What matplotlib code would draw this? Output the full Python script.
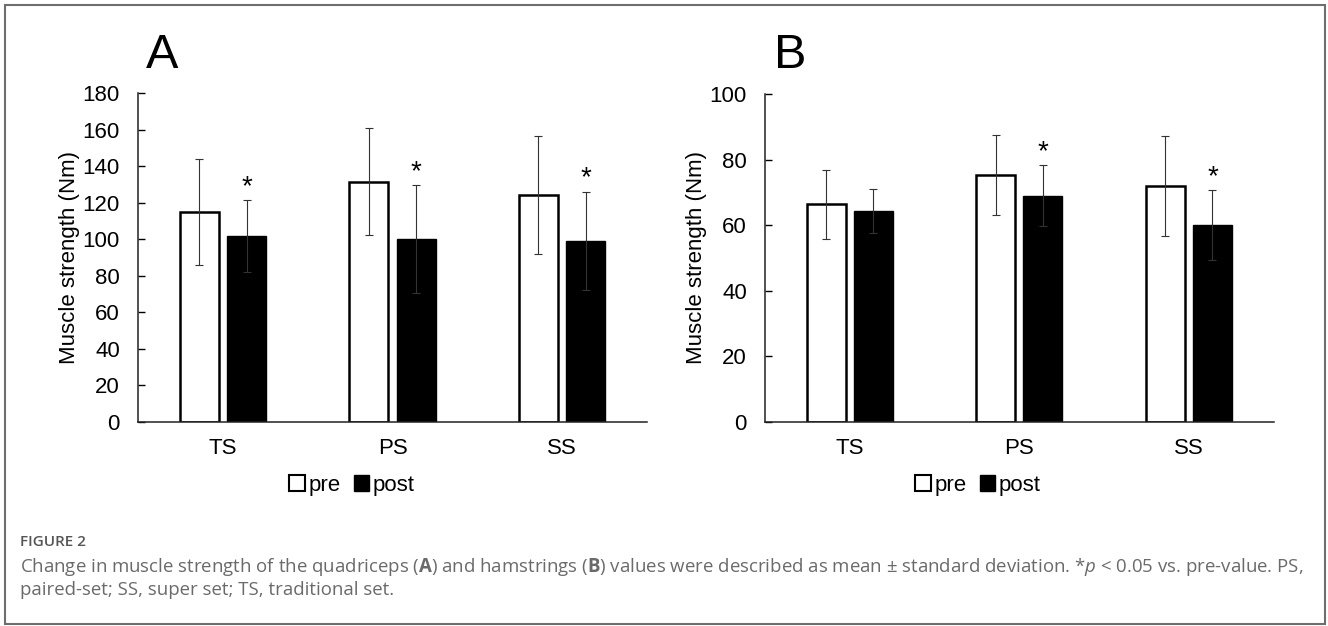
import matplotlib
matplotlib.use("Agg")
import matplotlib.pyplot as plt
from matplotlib.patches import Patch, Rectangle
import numpy as np

categories = ["TS", "PS", "SS"]
series_names = ["pre", "post"]

# Panel A: quadriceps
a_pre = [114.7, 131.5, 124.0]
a_pre_sd = [29.0, 29.5, 32.3]
a_post = [101.7, 100.0, 99.0]
a_post_sd = [19.5, 29.7, 27.0]
a_sig = [True, True, True]
a_ticks = [0, 20, 40, 60, 80, 100, 120, 140, 160, 180]

# Panel B: hamstrings
b_pre = [66.4, 75.3, 72.0]
b_pre_sd = [10.5, 12.2, 15.2]
b_post = [64.3, 69.0, 60.0]
b_post_sd = [6.7, 9.2, 10.6]
b_sig = [False, True, True]
b_ticks = [0, 20, 40, 60, 80, 100]

plt.rcParams['font.family'] = ['Liberation Sans', 'DejaVu Sans']
plt.rcParams['mathtext.fontset'] = 'custom'
plt.rcParams['mathtext.rm'] = 'Open Sans'
plt.rcParams['mathtext.bf'] = 'Open Sans:bold'
plt.rcParams['mathtext.it'] = 'Open Sans:italic'

fig = plt.figure(figsize=(13.28, 6.26), dpi=100)

W, H = 1328, 626
FS = 16

def add_panel(rect_px, pre, pre_sd, post, post_sd, sig, ticks, letter, letter_x, legend_cx):
    x0, y0, x1, y1 = rect_px
    ax = fig.add_axes([x0 / W, 1 - y1 / H, (x1 - x0) / W, (y1 - y0) / H])
    x = np.arange(len(categories))
    bw = 0.23
    off = 0.14
    ax.bar(x - off, pre, bw, color='white', edgecolor='black', linewidth=1.8, zorder=2)
    ax.bar(x + off, post, bw, color='black', edgecolor='black', linewidth=1.0, zorder=2)
    ax.errorbar(x - off, pre, yerr=pre_sd, fmt='none', ecolor='#333333', elinewidth=0.8,
                capsize=3, capthick=0.8, zorder=3)
    ax.errorbar(x + off, post, yerr=post_sd, fmt='none', ecolor='#333333', elinewidth=0.8,
                capsize=3, capthick=0.8, zorder=3)
    for i in range(len(categories)):
        if sig[i]:
            ax.annotate('*', (x[i] + off, post[i] + post_sd[i]), xytext=(0, 0),
                        textcoords='offset points', ha='center', va='bottom', fontsize=20)
    ax.set_xlim(-0.5, len(categories) - 0.5)
    ax.set_ylim(ticks[0], ticks[-1])
    ax.set_yticks(ticks)
    ax.set_xticks(x)
    ax.set_xticklabels(categories, fontsize=FS)
    ax.tick_params(axis='x', length=0, pad=12)
    ax.tick_params(axis='y', direction='in', length=5, width=1, labelsize=FS, pad=13)
    for s in ['top', 'right']:
        ax.spines[s].set_visible(False)
    for s in ['left', 'bottom']:
        ax.spines[s].set_color('#222222')
        ax.spines[s].set_linewidth(1.1)
    ax.set_ylabel('Muscle strength (Nm)', fontsize=FS, labelpad=2)
    fig.text(letter_x / W, 1 - 56 / H, letter, fontsize=35, ha='left', va='center')
    handles = [Patch(facecolor='white', edgecolor='black', linewidth=1.5),
               Patch(facecolor='black', edgecolor='black')]
    fig.legend(handles, series_names, loc='center', bbox_to_anchor=(legend_cx / W, 1 - 485 / H),
               ncol=2, frameon=False, fontsize=FS, handlelength=0.7, handleheight=0.7,
               handletextpad=0.15, columnspacing=0.6, borderpad=0)
    return ax

add_panel((138, 93, 647, 421.7), a_pre, a_pre_sd, a_post, a_post_sd, a_sig, a_ticks, 'A', 146, 352)
add_panel((765, 94, 1273.5, 421.7), b_pre, b_pre_sd, b_post, b_post_sd, b_sig, b_ticks, 'B', 774, 978)

# Border
fig.patches.append(Rectangle((4.5 / W, 1 - 623.5 / H), (1320.5) / W, (619) / H,
                             transform=fig.transFigure, fill=False, edgecolor='#6e6e6e',
                             linewidth=1.5))

cap_color = '#6a6a6a'
fig.text(20 / W, 1 - 542 / H, 'FIGURE 2', fontsize=11, color='#555555', family='Open Sans',
         weight='semibold', ha='left', va='center')
line1 = (r'Change in muscle strength of the quadriceps ($\mathbf{A}$) and hamstrings ($\mathbf{B}$) '
         r'values were described as mean ± standard deviation. *$\mathit{p}$ < 0.05 vs. pre-value. PS,')
line2 = 'paired-set; SS, super set; TS, traditional set.'
fig.text(20 / W, 1 - 567 / H, line1, fontsize=13.4, color=cap_color, family='Open Sans',
         ha='left', va='center')
fig.text(20 / W, 1 - 590 / H, line2, fontsize=13.4, color=cap_color, family='Open Sans',
         ha='left', va='center')

fig.savefig('out.png', dpi=100)
